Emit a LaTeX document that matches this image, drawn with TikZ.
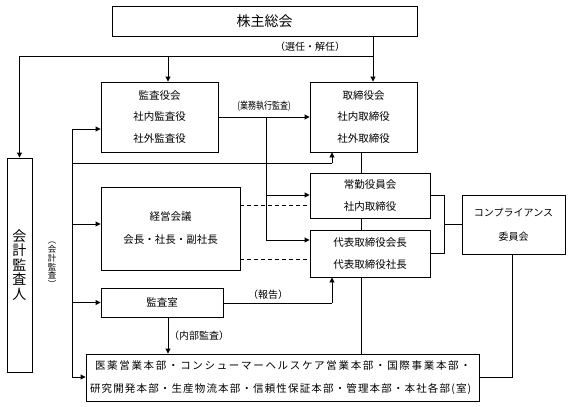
\documentclass[tikz,border=0pt]{standalone}
\usepackage{fontspec}
\setmainfont{Noto Sans CJK JP}
\newfontfamily\deptfonta[LetterSpace=16]{Noto Sans CJK JP}
\newfontfamily\deptfontb[LetterSpace=11]{Noto Sans CJK JP}
\usetikzlibrary{arrows.meta}
\begin{document}
\begin{tikzpicture}[x=1pt,y=-1pt,
  box/.style={draw,line width=0.9pt,rectangle,inner sep=0pt,align=center,
    font=\fontsize{10.5}{21.5}\selectfont},
  ln/.style={line width=0.9pt},
  arr/.style={line width=0.9pt,-{Triangle[length=5pt,width=5pt]}},
  dsh/.style={line width=0.9pt,dash pattern=on 4pt off 3pt},
  lbl/.style={font=\fontsize{10}{12}\selectfont,inner sep=0pt}]
\useasboundingbox (0,0) rectangle (571,407);
% boxes
\node[box,minimum width=305pt,minimum height=30pt,font=\fontsize{14}{16}\selectfont] (sh) at (264.5,21) {株主総会};
\node[box,minimum width=117pt,minimum height=70pt] (kansa) at (159.5,117) {監査役会\\社内監査役\\社外監査役};
\node[box,minimum width=107pt,minimum height=70pt] (tori) at (363.5,117) {取締役会\\社内取締役\\社外取締役};
\node[box,minimum width=120pt,minimum height=45pt] (jokin) at (370,195.5) {常勤役員会\\社内取締役};
\node[box,minimum width=120pt,minimum height=47pt] (daihyo) at (370,253.5) {代表取締役会長\\代表取締役社長};
\node[box,minimum width=103pt,minimum height=59pt,font=\fontsize{10}{24}\selectfont] (comp) at (513.5,224.5) {コンプライアンス\\委員会};
\node[box,minimum width=139pt,minimum height=83pt,font=\fontsize{10.5}{23}\selectfont] (keiei) at (170.5,228.5) {経営会議\\会長・社長・副社長};
\node[box,minimum width=122pt,minimum height=29pt] (shitsu) at (162,302.5) {監査室};
\node[box,minimum width=25pt,minimum height=214pt,font=\fontsize{14}{14.5}\selectfont] (kaikei) at (19.5,265) {会\\計\\監\\査\\人};
\node[box,minimum width=393pt,minimum height=47pt,inner xsep=4pt,text width=385pt,align=left,font=\fontsize{10.5}{23}\selectfont] (dept) at (282.5,377.5) {\hspace*{5pt}{\deptfonta 医薬営業本部・コンシューマーヘルスケア営業本部・国際事業本部・}\\{\deptfontb 研究開発本部・生産物流本部・信頼性保証本部・管理本部・本社各部(室)}};
% coordinates
\coordinate (xS) at (373,0);
\coordinate (yS) at (0,56);
\coordinate (xK) at (168,0);
\coordinate (xA) at (19.5,0);
\coordinate (xL) at (72,0);
\coordinate (xV) at (266,0);
\coordinate (xR) at (332,0);
\coordinate (xC) at (361,0);
\coordinate (xB) at (444,0);
\coordinate (xP) at (512,0);
% shareholders
\draw[arr] (sh.south -| xS) -- (tori.north -| xS);
\draw[ln] (yS -| xS) -- (yS -| xA);
\draw[arr] (yS -| xA) -- (kaikei.north);
\draw[arr] (yS -| xK) -- (kansa.north -| xK);
\node[lbl] (lsel) at (310,47) {（選任・解任）};
% audit board to board
\draw[arr] (kansa.east) -- (tori.west);
\node[lbl,font=\fontsize{10}{12}\selectfont] (lgyo) at (264,106.5) {\scalebox{0.8}[1]{(業務執行監査)}};
\draw[ln] (kansa.east -| xV) -- (0,240 -| xV);
\draw[arr] (0,195 -| xV) -- (0,195 -| jokin.west);
\draw[arr] (0,240 -| xV) -- (0,240 -| daihyo.west);
% left trunk
\draw[arr] (0,129 -| xL) -- (0,129 -| kansa.west);
\draw[ln] (0,129 -| xL) -- (0,377 -| xL);
\draw[arr] (0,377 -| xL) -- (0,377 -| dept.west);
\draw[arr] (0,224 -| xL) -- (0,224 -| keiei.west);
\draw[arr] (0,302.5 -| xL) -- (shitsu.west);
\draw[ln] (0,163 -| xL) -- (0,163 -| xR);
\draw[arr] (0,163 -| xR) -- (tori.south -| xR);
\node[lbl,font=\fontsize{8.5}{8.8}\selectfont,align=center] (lkai) at (52,265) {︵\\会\\計\\監\\査\\︶};
% dashed
\draw[dsh] (0,205.5 -| keiei.east) -- (0,205.5 -| jokin.west);
\draw[dsh] (0,259.5 -| keiei.east) -- (0,259.5 -| daihyo.west);
% audit office
\draw[ln] (0,303 -| shitsu.east) -- (0,303 -| xR);
\draw[arr] (0,303 -| xR) -- (daihyo.south -| xR);
\node[lbl] (lhou) at (268,295) {（報告）};
\draw[arr] (shitsu.south -| xK) -- (dept.north -| xK);
\node[lbl,anchor=west] (lnai) at (169,336) {（内部監査）};
% center spine
\draw[ln] (tori.south -| xC) -- (jokin.north -| xC);
\draw[ln] (jokin.south -| xC) -- (daihyo.north -| xC);
\draw[ln] (daihyo.south -| xC) -- (dept.north -| xC);
% compliance
\draw[ln] (0,195.5 -| jokin.east) -- (0,195.5 -| xB) -- (0,253 -| xB) -- (0,253 -| daihyo.east);
\draw[ln] (comp.west -| xB) -- (comp.west);
\draw[ln] (comp.south -| xP) -- (0,377 -| xP) -- (0,377 -| dept.east);
\end{tikzpicture}
\end{document}
